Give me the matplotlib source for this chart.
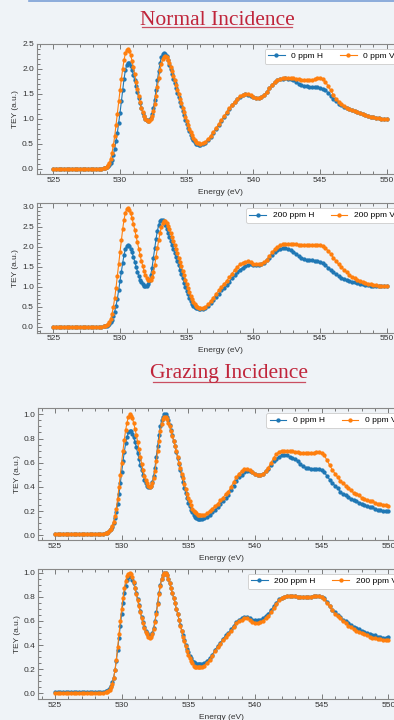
import matplotlib
matplotlib.use("Agg")
import matplotlib.pyplot as plt
from matplotlib.ticker import MultipleLocator, AutoMinorLocator
from matplotlib.lines import Line2D

plt.rcParams['font.family'] = ['Liberation Sans', 'DejaVu Sans']

energy = [
    525.0, 525.2, 525.4, 525.6, 525.8, 526.0, 526.2, 526.4, 526.6, 526.8,
    527.0, 527.2, 527.4, 527.6, 527.8, 528.0, 528.2, 528.4, 528.6,
    528.8, 528.9,
    529.0, 529.1, 529.2, 529.3, 529.4, 529.5, 529.6, 529.7, 529.8, 529.9,
    530.0, 530.1, 530.2, 530.3, 530.4, 530.5, 530.6, 530.7, 530.8, 530.9,
    531.0, 531.1, 531.2, 531.3, 531.4, 531.5, 531.6, 531.7, 531.8, 531.9,
    532.0, 532.1, 532.2, 532.3, 532.4, 532.5, 532.6, 532.7, 532.8, 532.9,
    533.0, 533.1, 533.2, 533.3, 533.4, 533.5, 533.6, 533.7, 533.8, 533.9,
    534.0, 534.1, 534.2, 534.3, 534.4, 534.5, 534.6, 534.7, 534.8, 534.9,
    535.0, 535.1, 535.2, 535.3, 535.4, 535.5, 535.6, 535.7, 535.8, 535.9,
    536.0,
    536.2, 536.4, 536.6, 536.8,
    537.0, 537.2, 537.4, 537.6, 537.8, 538.0, 538.2, 538.4, 538.6, 538.8,
    539.0, 539.2, 539.4, 539.6, 539.8, 540.0, 540.2, 540.4, 540.6, 540.8,
    541.0, 541.2, 541.4, 541.6, 541.8, 542.0, 542.2, 542.4, 542.6, 542.8,
    543.0, 543.2, 543.4, 543.6, 543.8, 544.0, 544.2, 544.4, 544.6, 544.8,
    545.0, 545.2, 545.4, 545.6, 545.8, 546.0, 546.2, 546.4, 546.6, 546.8,
    547.0, 547.2, 547.4, 547.6, 547.8, 548.0, 548.2, 548.4, 548.6, 548.8,
    549.0, 549.2, 549.4, 549.6, 549.8, 550.0,
]

normal_0_H = [
    0.00, 0.00, 0.00, 0.00, 0.00, 0.00, 0.00, 0.00, 0.00, 0.00,
    0.00, 0.00, 0.00, 0.00, 0.00, 0.00, 0.00, 0.00, 0.00,
    0.01, 0.02,
    0.03, 0.05, 0.08, 0.12, 0.18, 0.28, 0.40, 0.55, 0.72, 0.92,
    1.12, 1.35, 1.58, 1.80, 1.97, 2.08, 2.12, 2.11, 2.06, 1.98,
    1.88, 1.77, 1.65, 1.53, 1.42, 1.31, 1.21, 1.12, 1.05, 1.00,
    0.97, 0.96, 0.97, 1.02, 1.10, 1.22, 1.38, 1.57, 1.77, 1.96,
    2.12, 2.23, 2.30, 2.32, 2.30, 2.25, 2.17, 2.08, 1.99, 1.89,
    1.80, 1.71, 1.62, 1.52, 1.43, 1.34, 1.25, 1.16, 1.07, 0.98,
    0.90, 0.82, 0.75, 0.68, 0.62, 0.57, 0.53, 0.50, 0.49, 0.48,
    0.48,
    0.49, 0.52, 0.57, 0.64,
    0.72, 0.80, 0.88, 0.96, 1.04, 1.12, 1.20, 1.27, 1.33, 1.39,
    1.44, 1.47, 1.49, 1.48, 1.46, 1.43, 1.42, 1.42, 1.44, 1.48,
    1.54, 1.61, 1.68, 1.73, 1.77, 1.79, 1.80, 1.81, 1.80, 1.79,
    1.77, 1.74, 1.70, 1.67, 1.66, 1.65, 1.64, 1.63, 1.63, 1.63,
    1.62, 1.60, 1.57, 1.52, 1.46, 1.40, 1.35, 1.30, 1.27, 1.24,
    1.21, 1.19, 1.17, 1.15, 1.13, 1.11, 1.09, 1.07, 1.05, 1.04,
    1.03, 1.02, 1.01, 1.00, 1.00, 1.00,
]
normal_0_V = [
    0.00, 0.00, 0.00, 0.00, 0.00, 0.00, 0.00, 0.00, 0.00, 0.00,
    0.00, 0.00, 0.00, 0.00, 0.00, 0.00, 0.00, 0.00, 0.00,
    0.01, 0.02,
    0.04, 0.07, 0.12, 0.20, 0.32, 0.47, 0.65, 0.88, 1.10, 1.35,
    1.57, 1.80, 2.00, 2.18, 2.31, 2.38, 2.39, 2.35, 2.27, 2.16,
    2.03, 1.89, 1.74, 1.60, 1.46, 1.34, 1.22, 1.13, 1.06, 1.00,
    0.97, 0.95, 0.96, 0.99, 1.05, 1.15, 1.29, 1.46, 1.64, 1.82,
    1.98, 2.10, 2.19, 2.24, 2.25, 2.23, 2.18, 2.11, 2.03, 1.95,
    1.86, 1.77, 1.68, 1.58, 1.49, 1.40, 1.31, 1.22, 1.13, 1.04,
    0.96, 0.88, 0.80, 0.73, 0.67, 0.62, 0.57, 0.54, 0.52, 0.51,
    0.50,
    0.51, 0.54, 0.59, 0.66,
    0.73, 0.81, 0.89, 0.97, 1.05, 1.13, 1.21, 1.28, 1.34, 1.40,
    1.45, 1.48, 1.50, 1.50, 1.47, 1.44, 1.42, 1.42, 1.44, 1.48,
    1.54, 1.61, 1.68, 1.74, 1.78, 1.80, 1.81, 1.82, 1.82, 1.82,
    1.81, 1.80, 1.79, 1.78, 1.78, 1.77, 1.77, 1.78, 1.79, 1.81,
    1.81, 1.79, 1.74, 1.66, 1.57, 1.48, 1.40, 1.34, 1.29, 1.25,
    1.22, 1.19, 1.17, 1.15, 1.13, 1.11, 1.09, 1.07, 1.05, 1.04,
    1.03, 1.02, 1.01, 1.00, 1.00, 0.99,
]
normal_200_H = [
    0.00, 0.00, 0.00, 0.00, 0.00, 0.00, 0.00, 0.00, 0.00, 0.00,
    0.00, 0.00, 0.00, 0.00, 0.00, 0.00, 0.00, 0.00, 0.00,
    0.01, 0.02,
    0.03, 0.05, 0.08, 0.12, 0.18, 0.27, 0.38, 0.52, 0.70, 0.92,
    1.15, 1.38, 1.60, 1.80, 1.94, 2.02, 2.04, 2.01, 1.95, 1.86,
    1.75, 1.63, 1.50, 1.38, 1.27, 1.18, 1.11, 1.06, 1.03, 1.02,
    1.03, 1.07, 1.15, 1.29, 1.48, 1.72, 1.97, 2.20, 2.40, 2.55,
    2.64, 2.68, 2.67, 2.62, 2.54, 2.45, 2.35, 2.25, 2.15, 2.05,
    1.95, 1.85, 1.75, 1.64, 1.54, 1.43, 1.32, 1.21, 1.10, 1.00,
    0.90, 0.81, 0.72, 0.64, 0.58, 0.53, 0.49, 0.47, 0.46, 0.45,
    0.45,
    0.45, 0.48, 0.53, 0.60,
    0.67, 0.75, 0.83, 0.91, 0.98, 1.05, 1.13, 1.21, 1.30, 1.37,
    1.43, 1.48, 1.52, 1.55, 1.56, 1.55, 1.54, 1.54, 1.56, 1.60,
    1.66, 1.73, 1.80, 1.86, 1.91, 1.94, 1.96, 1.96, 1.95, 1.92,
    1.88, 1.83, 1.77, 1.72, 1.69, 1.67, 1.66, 1.66, 1.65, 1.64,
    1.62, 1.59, 1.54, 1.48, 1.42, 1.36, 1.31, 1.27, 1.23, 1.20,
    1.17, 1.15, 1.13, 1.11, 1.09, 1.08, 1.06, 1.05, 1.04, 1.03,
    1.02, 1.02, 1.01, 1.01, 1.01, 1.01,
]
normal_200_V = [
    0.00, 0.00, 0.00, 0.00, 0.00, 0.00, 0.00, 0.00, 0.00, 0.00,
    0.00, 0.00, 0.00, 0.00, 0.00, 0.00, 0.00, 0.00, 0.00,
    0.01, 0.02,
    0.04, 0.07, 0.12, 0.20, 0.33, 0.50, 0.72, 0.98, 1.27, 1.57,
    1.87, 2.17, 2.45, 2.68, 2.85, 2.94, 2.96, 2.92, 2.84, 2.72,
    2.58, 2.43, 2.27, 2.11, 1.95, 1.80, 1.65, 1.52, 1.40, 1.30,
    1.23, 1.18, 1.16, 1.18, 1.25, 1.37, 1.54, 1.75, 1.96, 2.17,
    2.35, 2.49, 2.59, 2.64, 2.64, 2.60, 2.53, 2.44, 2.34, 2.24,
    2.14, 2.04, 1.94, 1.84, 1.73, 1.62, 1.51, 1.40, 1.29, 1.18,
    1.07, 0.97, 0.87, 0.78, 0.70, 0.63, 0.57, 0.52, 0.49, 0.47,
    0.47,
    0.47, 0.50, 0.56, 0.64,
    0.73, 0.82, 0.91, 1.00, 1.07, 1.15, 1.24, 1.33, 1.42, 1.50,
    1.56, 1.60, 1.63, 1.64, 1.62, 1.58, 1.56, 1.56, 1.58, 1.62,
    1.68, 1.77, 1.86, 1.94, 2.00, 2.04, 2.07, 2.08, 2.08, 2.08,
    2.07, 2.06, 2.05, 2.05, 2.05, 2.05, 2.05, 2.05, 2.05, 2.05,
    2.04, 2.02, 1.97, 1.90, 1.82, 1.73, 1.64, 1.56, 1.49, 1.42,
    1.36, 1.30, 1.25, 1.21, 1.18, 1.15, 1.12, 1.10, 1.08, 1.06,
    1.05, 1.04, 1.03, 1.02, 1.02, 1.02,
]
grazing_0_H = [
    0.01, 0.01, 0.01, 0.01, 0.01, 0.01, 0.01, 0.01, 0.01, 0.01,
    0.01, 0.01, 0.01, 0.01, 0.01, 0.01, 0.01, 0.01, 0.01,
    0.02, 0.02,
    0.03, 0.04, 0.05, 0.07, 0.10, 0.14, 0.19, 0.26, 0.34, 0.43,
    0.52, 0.61, 0.69, 0.76, 0.81, 0.85, 0.86, 0.86, 0.84, 0.81,
    0.77, 0.73, 0.68, 0.63, 0.58, 0.54, 0.50, 0.46, 0.43, 0.41,
    0.40, 0.40, 0.41, 0.44, 0.49, 0.56, 0.65, 0.74, 0.83, 0.90,
    0.95, 0.98, 1.00, 1.00, 0.98, 0.95, 0.91, 0.87, 0.83, 0.78,
    0.74, 0.69, 0.64, 0.59, 0.54, 0.49, 0.44, 0.39, 0.35, 0.31,
    0.27, 0.24, 0.21, 0.19, 0.17, 0.15, 0.14, 0.13, 0.13, 0.13,
    0.13,
    0.14, 0.15, 0.17, 0.19,
    0.21, 0.23, 0.26, 0.28, 0.31, 0.33, 0.37, 0.41, 0.45, 0.48,
    0.50, 0.52, 0.53, 0.53, 0.52, 0.51, 0.50, 0.50, 0.51, 0.53,
    0.55, 0.58, 0.61, 0.63, 0.65, 0.66, 0.66, 0.66, 0.65, 0.64,
    0.63, 0.61, 0.59, 0.57, 0.56, 0.56, 0.55, 0.55, 0.55, 0.55,
    0.54, 0.52, 0.49, 0.46, 0.43, 0.41, 0.39, 0.36, 0.34, 0.33,
    0.32, 0.30, 0.29, 0.28, 0.27, 0.26, 0.25, 0.24, 0.23, 0.23,
    0.22, 0.21, 0.21, 0.20, 0.20, 0.20,
]
grazing_0_V = [
    0.01, 0.01, 0.01, 0.01, 0.01, 0.01, 0.01, 0.01, 0.01, 0.01,
    0.01, 0.01, 0.01, 0.01, 0.01, 0.01, 0.01, 0.01, 0.01,
    0.02, 0.02,
    0.03, 0.04, 0.05, 0.08, 0.11, 0.16, 0.22, 0.30, 0.40, 0.50,
    0.60, 0.70, 0.79, 0.87, 0.93, 0.98, 1.00, 0.99, 0.97, 0.93,
    0.88, 0.83, 0.77, 0.71, 0.65, 0.59, 0.54, 0.49, 0.46, 0.43,
    0.41, 0.40, 0.41, 0.43, 0.47, 0.53, 0.61, 0.70, 0.78, 0.86,
    0.92, 0.96, 0.975, 0.975, 0.96, 0.93, 0.90, 0.86, 0.82, 0.78,
    0.74, 0.70, 0.65, 0.60, 0.56, 0.51, 0.47, 0.42, 0.38, 0.34,
    0.31, 0.28, 0.25, 0.22, 0.20, 0.19, 0.18, 0.17, 0.165, 0.165,
    0.165,
    0.17, 0.18, 0.20, 0.22,
    0.24, 0.26, 0.29, 0.31, 0.34, 0.36, 0.40, 0.44, 0.48, 0.51,
    0.53, 0.55, 0.55, 0.54, 0.52, 0.51, 0.50, 0.50, 0.51, 0.53,
    0.56, 0.60, 0.64, 0.67, 0.69, 0.70, 0.70, 0.70, 0.70, 0.70,
    0.69, 0.69, 0.68, 0.68, 0.68, 0.68, 0.68, 0.68, 0.69, 0.69,
    0.68, 0.66, 0.62, 0.58, 0.54, 0.51, 0.48, 0.45, 0.43, 0.41,
    0.39, 0.37, 0.35, 0.34, 0.33, 0.31, 0.30, 0.29, 0.28, 0.28,
    0.27, 0.26, 0.26, 0.25, 0.25, 0.245,
]
grazing_200_H = [
    0.01, 0.01, 0.01, 0.01, 0.01, 0.01, 0.01, 0.01, 0.01, 0.01,
    0.01, 0.01, 0.01, 0.01, 0.01, 0.01, 0.01, 0.01, 0.01,
    0.02, 0.02,
    0.03, 0.04, 0.06, 0.09, 0.13, 0.19, 0.27, 0.36, 0.46, 0.56,
    0.66, 0.75, 0.83, 0.89, 0.94, 0.96, 0.97, 0.96, 0.94, 0.91,
    0.87, 0.83, 0.78, 0.73, 0.68, 0.63, 0.59, 0.55, 0.52, 0.50,
    0.48, 0.47, 0.48, 0.50, 0.54, 0.60, 0.67, 0.75, 0.83, 0.90,
    0.95, 0.98, 1.00, 1.00, 0.98, 0.95, 0.91, 0.87, 0.83, 0.79,
    0.75, 0.70, 0.66, 0.61, 0.57, 0.52, 0.48, 0.44, 0.40, 0.37,
    0.34, 0.31, 0.29, 0.27, 0.26, 0.25, 0.24, 0.24, 0.24, 0.24,
    0.24,
    0.25, 0.27, 0.29, 0.32,
    0.36, 0.39, 0.42, 0.45, 0.48, 0.50, 0.53, 0.56, 0.59, 0.61,
    0.62, 0.63, 0.63, 0.62, 0.61, 0.61, 0.61, 0.61, 0.62, 0.64,
    0.66, 0.69, 0.72, 0.75, 0.78, 0.79, 0.80, 0.81, 0.81, 0.81,
    0.81, 0.80, 0.80, 0.80, 0.80, 0.80, 0.80, 0.81, 0.81, 0.81,
    0.80, 0.79, 0.76, 0.72, 0.69, 0.67, 0.65, 0.63, 0.61, 0.60,
    0.58, 0.57, 0.55, 0.54, 0.53, 0.52, 0.51, 0.50, 0.49, 0.48,
    0.48, 0.47, 0.47, 0.46, 0.46, 0.47,
]
grazing_200_V = [
    0.00, 0.00, 0.00, 0.00, 0.00, 0.00, 0.00, 0.00, 0.00, 0.00,
    0.00, 0.00, 0.00, 0.00, 0.00, 0.00, 0.00, 0.00, 0.00,
    0.01, 0.01,
    0.02, 0.03, 0.05, 0.08, 0.13, 0.19, 0.28, 0.38, 0.49, 0.60,
    0.70, 0.79, 0.87, 0.93, 0.97, 0.99, 1.00, 0.99, 0.96, 0.92,
    0.87, 0.82, 0.77, 0.72, 0.67, 0.62, 0.58, 0.54, 0.51, 0.49,
    0.47, 0.46, 0.47, 0.49, 0.53, 0.59, 0.66, 0.74, 0.82, 0.89,
    0.95, 0.98, 1.00, 1.00, 0.98, 0.95, 0.91, 0.87, 0.83, 0.79,
    0.75, 0.70, 0.66, 0.61, 0.56, 0.52, 0.47, 0.43, 0.39, 0.35,
    0.32, 0.29, 0.27, 0.25, 0.23, 0.22, 0.22, 0.22, 0.22, 0.22,
    0.22,
    0.23, 0.25, 0.28, 0.31,
    0.35, 0.38, 0.41, 0.44, 0.47, 0.49, 0.52, 0.55, 0.58, 0.60,
    0.61, 0.62, 0.62, 0.61, 0.59, 0.58, 0.58, 0.59, 0.60, 0.62,
    0.64, 0.67, 0.71, 0.74, 0.77, 0.79, 0.80, 0.81, 0.81, 0.81,
    0.81, 0.80, 0.80, 0.80, 0.80, 0.80, 0.80, 0.81, 0.81, 0.81,
    0.80, 0.78, 0.75, 0.72, 0.69, 0.66, 0.64, 0.62, 0.60, 0.58,
    0.56, 0.55, 0.53, 0.52, 0.51, 0.50, 0.49, 0.48, 0.47, 0.46,
    0.46, 0.45, 0.45, 0.44, 0.44, 0.44,
]

headings = ["Normal Incidence", "Grazing Incidence"]
labels_0 = ["0 ppm H", "0 ppm V"]
labels_200 = ["200 ppm H", "200 ppm V"]
x_label = "Energy (eV)"
y_label = "TEY (a.u.)"

BG = '#eff3f7'
BLUE = '#1f77b4'
ORANGE = '#ff7f0e'
RED = '#c0253b'

W, H = 394, 720
fig = plt.figure(figsize=(W / 100, H / 100), dpi=100, facecolor=BG)


def px_axes(left, top, bottom, width=366.7):
    return fig.add_axes([left / W, 1 - bottom / H, width / W, (bottom - top) / H])


panels = [
    (36.7, 44.0, 174.0, normal_0_H, normal_0_V, labels_0, (-0.11, 2.50), 0.5),
    (36.7, 203.3, 332.7, normal_200_H, normal_200_V, labels_200, (-0.15, 3.09), 0.5),
    (38.3, 408.3, 540.0, grazing_0_H, grazing_0_V, labels_0, (-0.04, 1.05), 0.2),
    (38.3, 569.0, 699.0, grazing_200_H, grazing_200_V, labels_200, (-0.047, 1.03), 0.2),
]

for left, top, bottom, yh, yv, labs, ylim, ymaj in panels:
    ax = px_axes(left, top, bottom)
    ax.set_facecolor(BG)
    ax.plot(energy, yh, '-o', color=BLUE, lw=0.8, ms=2.1, label=labs[0])
    ax.plot(energy, yv, '-o', color=ORANGE, lw=0.8, ms=2.1, label=labs[1])
    ax.set_xlim(523.75, 551.25)
    ax.set_ylim(*ylim)
    ax.xaxis.set_major_locator(MultipleLocator(5))
    ax.xaxis.set_minor_locator(MultipleLocator(1))
    ax.yaxis.set_major_locator(MultipleLocator(ymaj))
    ax.yaxis.set_minor_locator(AutoMinorLocator())
    ax.tick_params(which='both', direction='in', top=True, right=True,
                   colors='#666666', labelcolor='#333333', labelsize=6, width=0.6)
    ax.tick_params(which='major', length=3.5, pad=2)
    ax.tick_params(which='minor', length=2)
    for s in ax.spines.values():
        s.set_color('#888888')
        s.set_linewidth(0.8)
    ax.set_xlabel(x_label, fontsize=6, color='#333333', labelpad=3.5)
    ax.set_ylabel(y_label, fontsize=6, color='#333333', labelpad=2)
    leg = ax.legend(loc='upper right', ncol=2, fontsize=6, frameon=True,
                    facecolor='white', edgecolor='#cccccc', framealpha=1,
                    handlelength=2.0, columnspacing=2.0, handletextpad=0.8,
                    borderpad=0.4, borderaxespad=0.6)
    leg.get_frame().set_linewidth(0.6)

# Headings with underlines
fig.text(217 / W, 1 - 25 / H, headings[0], ha='center', va='baseline',
         fontsize=15.5, color=RED, family='Liberation Serif')
fig.add_artist(Line2D([142 / W, 292 / W], [1 - 27 / H, 1 - 27 / H],
                      transform=fig.transFigure, color=RED, lw=0.9, alpha=0.8))
fig.text(229 / W, 1 - 378.3 / H, headings[1], ha='center', va='baseline',
         fontsize=15.5, color=RED, family='Liberation Serif')
fig.add_artist(Line2D([152.7 / W, 305 / W], [1 - 381.8 / H, 1 - 381.8 / H],
                      transform=fig.transFigure, color=RED, lw=0.9, alpha=0.8))

# top border line
fig.add_artist(Line2D([29 / W, 1.0], [1 - 0.6 / H, 1 - 0.6 / H],
                      transform=fig.transFigure, color='#7b9fd6', lw=1.2))

fig.savefig('out.png', dpi=100, facecolor=BG)
